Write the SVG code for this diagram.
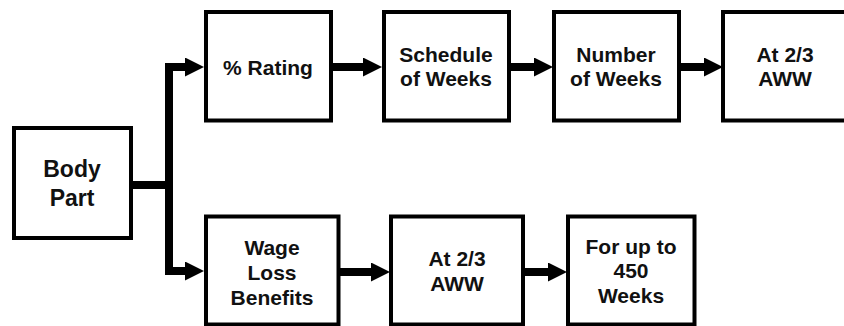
<svg xmlns="http://www.w3.org/2000/svg" width="844" height="326" viewBox="0 0 844 326">
  <style>
    .box { fill: #ffffff; stroke: #000000; stroke-width: 4; }
    .label { font-family: "Liberation Sans", Arial, sans-serif; font-weight: bold; font-size: 21px; fill: #111111; text-anchor: middle; }
    .big { font-size: 23px; }
    .wire { fill: none; stroke: #000000; stroke-width: 8; stroke-linejoin: miter; }
  </style>
  <defs>
    <marker id="head" markerUnits="userSpaceOnUse" markerWidth="20" markerHeight="20" refX="0" refY="9.5" orient="auto">
      <path d="M0,0 L19,9.5 L0,19 Z" fill="#000000"/>
    </marker>
  </defs>
  <rect width="844" height="326" fill="#ffffff"/>

  <!-- connectors -->
  <g id="connectors">
    <path class="wire" d="M131,185 H169"/>
    <path class="wire" d="M169,189 V67 H185" marker-end="url(#head)"/>
    <path class="wire" d="M169,181 V271 H185" marker-end="url(#head)"/>
    <path class="wire" d="M333,67 H363" marker-end="url(#head)"/>
    <path class="wire" d="M511,67 H534" marker-end="url(#head)"/>
    <path class="wire" d="M681,67 H704" marker-end="url(#head)"/>
    <path class="wire" d="M340,272 H371" marker-end="url(#head)"/>
    <path class="wire" d="M525,272 H548" marker-end="url(#head)"/>
  </g>

  <g id="body-part">
    <rect class="box" x="14" y="128" width="117" height="110"/>
    <text class="label big" x="72" y="177">Body</text>
    <text class="label big" x="72" y="206">Part</text>
  </g>

  <g id="rating">
    <rect class="box" x="206" y="12" width="125" height="108.5"/>
    <text class="label" x="268" y="75">% Rating</text>
  </g>

  <g id="schedule">
    <rect class="box" x="384" y="12" width="125" height="108.5"/>
    <text class="label" x="446" y="62">Schedule</text>
    <text class="label" x="446" y="86">of Weeks</text>
  </g>

  <g id="number-weeks">
    <rect class="box" x="554" y="12" width="125" height="108.5"/>
    <text class="label" x="616" y="62">Number</text>
    <text class="label" x="616" y="86">of Weeks</text>
  </g>

  <g id="aww-top">
    <rect class="box" x="723" y="12" width="130" height="108.5"/>
    <text class="label" x="785" y="62">At 2/3</text>
    <text class="label" x="785" y="86">AWW</text>
  </g>

  <g id="wage-loss">
    <rect class="box" x="206" y="216.5" width="132.5" height="108"/>
    <text class="label" x="272" y="255">Wage</text>
    <text class="label" x="272" y="280">Loss</text>
    <text class="label" x="272" y="305">Benefits</text>
  </g>

  <g id="aww-bottom">
    <rect class="box" x="391" y="216.5" width="132" height="108"/>
    <text class="label" x="457" y="266">At 2/3</text>
    <text class="label" x="457" y="291">AWW</text>
  </g>

  <g id="up-to-450">
    <rect class="box" x="568" y="216.5" width="126.5" height="108"/>
    <text class="label" x="631" y="254">For up to</text>
    <text class="label" x="631" y="278">450</text>
    <text class="label" x="631" y="303">Weeks</text>
  </g>
</svg>
